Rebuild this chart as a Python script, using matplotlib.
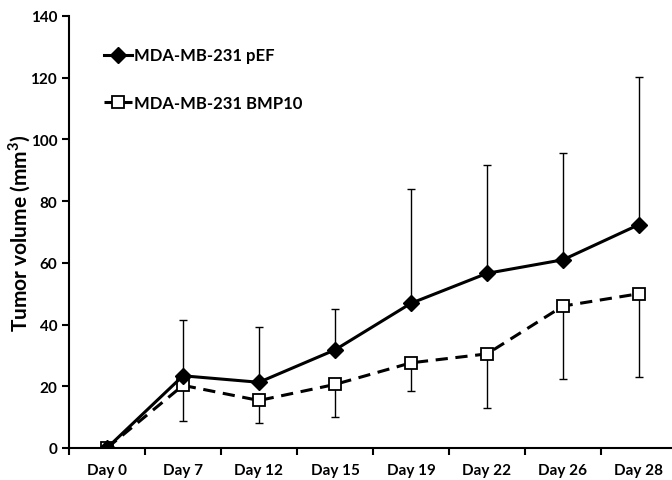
import matplotlib
matplotlib.use('Agg')
import matplotlib.pyplot as plt
import numpy as np

plt.rcParams['font.family'] = ['Lato', 'DejaVu Sans']
plt.rcParams['font.weight'] = 'bold'

days = ['Day 0', 'Day 7', 'Day 12', 'Day 15', 'Day 19', 'Day 22', 'Day 26', 'Day 28']
pef_mean = [0, 23.4, 21.3, 31.8, 46.9, 56.6, 61.0, 72.4]
pef_err_up = [0, 18.1, 18.0, 13.4, 36.9, 35.1, 34.5, 47.7]
bmp_mean = [0, 20.3, 15.4, 20.6, 27.6, 30.5, 46.0, 50.0]
bmp_err_down = [0, 11.6, 7.4, 10.4, 9.2, 17.5, 23.6, 27.0]

x = np.arange(len(days))
zeros = np.zeros(len(days))

fig = plt.figure(figsize=(6.72, 4.81), dpi=100)
ax = fig.add_axes([69 / 672, 32 / 481, 608 / 672, 432 / 481])

ax.errorbar(x, bmp_mean, yerr=[bmp_err_down, zeros], fmt='none', ecolor='black',
            elinewidth=1, capsize=3, capthick=1, zorder=2)
ax.errorbar(x, pef_mean, yerr=[zeros, pef_err_up], fmt='none', ecolor='black',
            elinewidth=1, capsize=3, capthick=1, zorder=2)

ax.plot(x, bmp_mean, linestyle=(0, (4, 2.5)), color='black', linewidth=2.2,
        marker='s', markersize=8, markerfacecolor='white', markeredgecolor='black',
        markeredgewidth=1.3, label='MDA-MB-231 BMP10', zorder=3)
ax.plot(x, pef_mean, linestyle='-', color='black', linewidth=2.2,
        marker='D', markersize=8, markerfacecolor='black', markeredgecolor='black',
        label='MDA-MB-231 pEF', zorder=4)

ax.set_xlim(-0.5, 7.5)
ax.set_ylim(0, 140)
ax.set_yticks(np.arange(0, 141, 20))
ax.set_xticks(x)
ax.set_xticklabels(days)
ax.set_xticks(np.arange(-0.5, 7.6, 1), minor=True)
ax.tick_params(axis='x', which='major', length=0, pad=11, labelsize=11)
ax.tick_params(axis='x', which='minor', length=5, width=1.5, direction='out')
ax.tick_params(axis='y', length=5, width=1.5, direction='out', labelsize=11)

for side in ['top', 'right']:
    ax.spines[side].set_visible(False)
for side in ['left', 'bottom']:
    ax.spines[side].set_linewidth(1.5)

ax.set_ylabel('Tumor volume (mm$^\\mathregular{3}$)', fontsize=15, fontweight='bold')
ax.yaxis.set_label_coords(-0.059, 0.5)

handles, labels = ax.get_legend_handles_labels()
ax.legend(handles[::-1], labels[::-1], loc='upper left', bbox_to_anchor=(0.033, 0.962),
          frameon=False, fontsize=12, handlelength=1.65, labelspacing=1.9,
          handletextpad=0.15)

fig.savefig('out.png', dpi=100)
